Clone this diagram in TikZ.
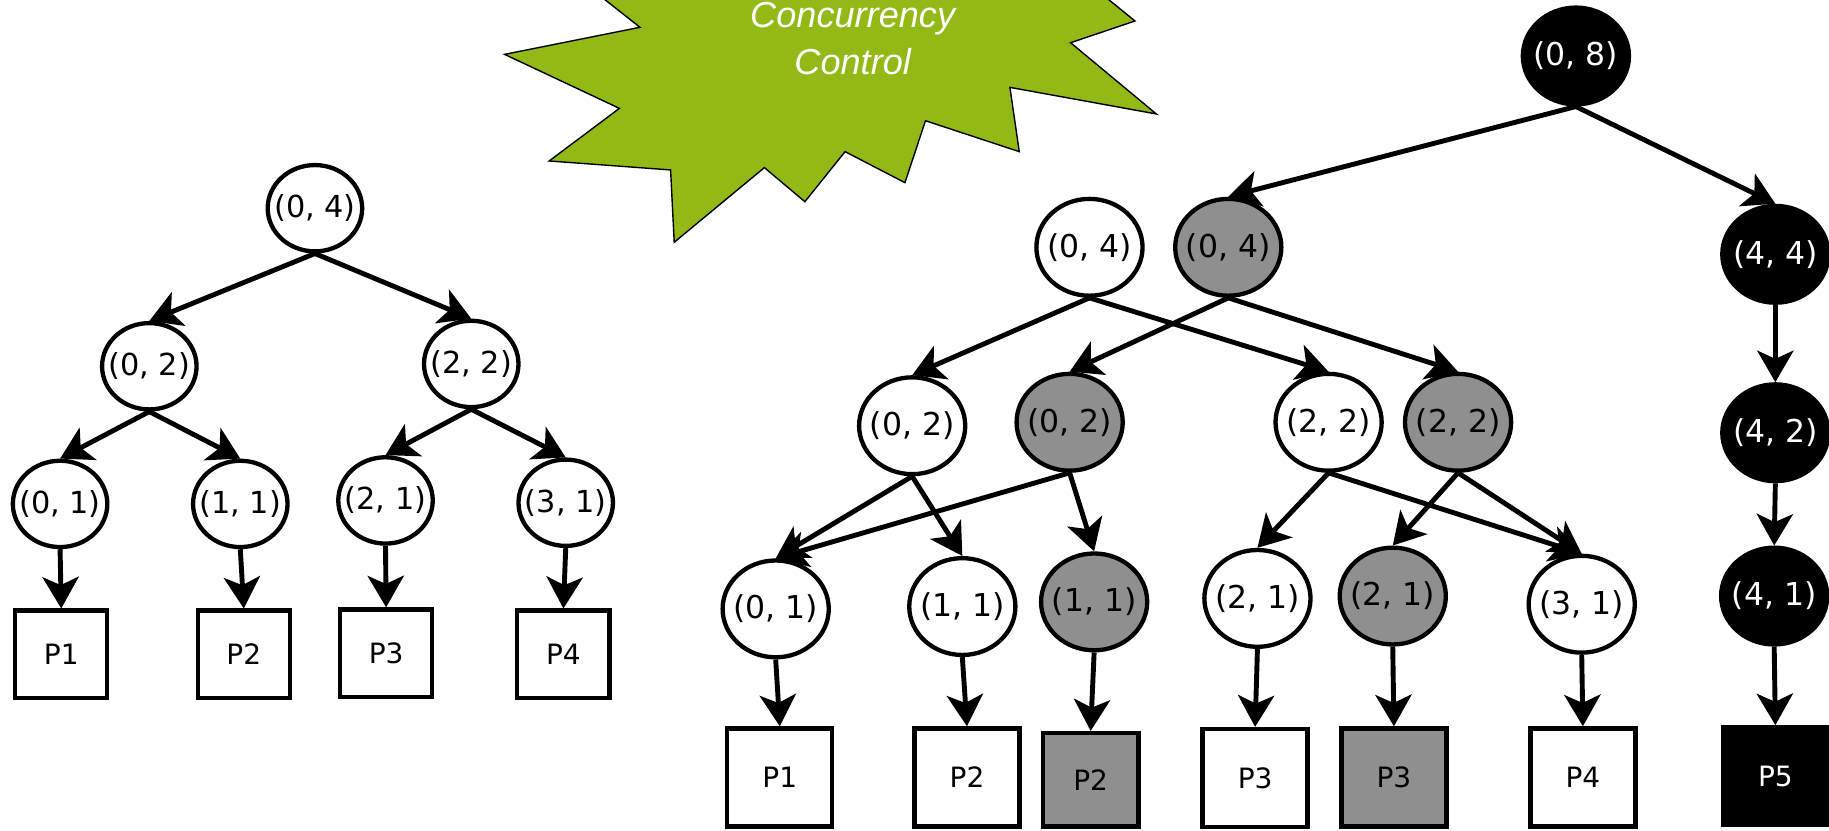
\documentclass[tikz,border=0pt]{standalone}
\usepackage{fontspec}
\setmainfont{DejaVu Sans}
\newfontfamily\burstfont{Liberation Sans}
\usetikzlibrary{shapes.geometric,arrows.meta}
\definecolor{burstgreen}{RGB}{147,185,22}
\definecolor{midgray}{RGB}{143,143,143}
% label of zero width, so the ellipse keeps its fixed size
\newcommand\ctext[1]{\makebox[0pt]{#1}}

\begin{document}
\begin{tikzpicture}[x=1pt,y=-1pt,
  nd/.style={ellipse, draw, line width=3.7pt, inner sep=0pt, fill=white},
  lnd/.style={nd, minimum width=81pt, minimum height=74pt,
              font=\fontsize{26}{30}\selectfont},
  rnd/.style={nd, minimum width=91pt, minimum height=83pt,
              font=\fontsize{27}{31}\selectfont},
  shaded/.style={fill=midgray},
  solidblk/.style={fill=black, text=white},
  box/.style={rectangle, draw, line width=3.7pt, inner sep=0pt, fill=white,
              font=\fontsize{24}{28}\selectfont},
  lbox/.style={box, minimum width=79pt, minimum height=75pt},
  rbox/.style={box, minimum width=90pt, minimum height=84pt},
  edge/.style={line width=4.2pt, -{Stealth[length=27pt,width=31pt,inset=7pt]}},
  burst/.style={fill=burstgreen, draw=black, line width=1.2pt, line join=miter},
  bursttext/.style={text=white, anchor=base, inner sep=0pt,
                    font=\burstfont\itshape\fontsize{31}{38}\selectfont},
]
\useasboundingbox (0,0) rectangle (1568,712);
\clip (0,0) rectangle (1568,712);

% ---------- starburst ----------
\path[burst] (481,-30) -- (548.6,23.4) -- (432.6,46.6) -- (531,92.9)
  -- (470.8,138) -- (574.9,145.7) -- (578,207.7) -- (655.3,143.7)
  -- (690,172.9) -- (724.5,130) -- (775.8,156.6) -- (793.4,103.5)
  -- (873.8,130) -- (865.8,74.9) -- (991.3,97.7) -- (917.8,36.6)
  -- (973,18) -- (914,-30) -- cycle;
\node[bursttext] (cc1) at (731,24) {Concurrency};
\node[bursttext] (cc2) at (731,63.5) {Control};

% ---------- left tree ----------
\node[lnd] (L04) at (270,178.5) {\ctext{(0, 4)}};
\node[lnd] (L02) at (128,314) {\ctext{(0, 2)}};
\node[lnd] (L22) at (404,312) {\ctext{(2, 2)}};
\node[lnd] (L01) at (51.5,432) {\ctext{(0, 1)}};
\node[lnd] (L11) at (206,432) {\ctext{(1, 1)}};
\node[lnd] (L21) at (330.5,429) {\ctext{(2, 1)}};
\node[lnd] (L31) at (485,431) {\ctext{(3, 1)}};
\node[lbox] (LP1) at (52.5,561) {P1};
\node[lbox] (LP2) at (209,561) {P2};
\node[lbox] (LP3) at (331,560) {P3};
\node[lbox] (LP4) at (483,561) {P4};

\draw[edge] (L04.south) -- (L02.north);
\draw[edge] (L04.south) -- (L22.north);
\draw[edge] (L02.south) -- (L01.north);
\draw[edge] (L02.south) -- (L11.north);
\draw[edge] (L22.south) -- (L21.north);
\draw[edge] (L22.south) -- (L31.north);
\draw[edge] (L01.south) -- (LP1.north);
\draw[edge] (L11.south) -- (LP2.north);
\draw[edge] (L21.south) -- (LP3.north);
\draw[edge] (L31.south) -- (LP4.north);

% ---------- right tree ----------
\node[rnd, solidblk] (R08) at (1351,48) {\ctext{(0, 8)}};
\node[rnd] (RW04) at (934,212) {\ctext{(0, 4)}};
\node[rnd, shaded] (RG04) at (1053,212) {\ctext{(0, 4)}};
\node[rnd, solidblk] (R44) at (1522,218) {\ctext{(4, 4)}};

\node[rnd] (RW02) at (782,365) {\ctext{(0, 2)}};
\node[rnd, shaded] (RG02) at (917,362) {\ctext{(0, 2)}};
\node[rnd] (RW22) at (1139,362) {\ctext{(2, 2)}};
\node[rnd, shaded] (RG22) at (1250,362) {\ctext{(2, 2)}};
\node[rnd, solidblk] (R42) at (1522,371) {\ctext{(4, 2)}};

\node[rnd] (RW01) at (665,522) {\ctext{(0, 1)}};
\node[rnd] (RW11) at (825,520) {\ctext{(1, 1)}};
\node[rnd, shaded] (RG11) at (938,516) {\ctext{(1, 1)}};
\node[rnd] (RW21) at (1078,513) {\ctext{(2, 1)}};
\node[rnd, shaded] (RG21) at (1194,511) {\ctext{(2, 1)}};
\node[rnd] (RW31) at (1356,518) {\ctext{(3, 1)}};
\node[rnd, solidblk] (R41) at (1521,511) {\ctext{(4, 1)}};

\node[rbox] (RP1) at (668.5,666.5) {P1};
\node[rbox] (RP2) at (829,666.5) {P2};
\node[rbox, shaded, minimum width=82pt, minimum height=80pt] (RGP2) at (935,668.5) {P2};
\node[rbox] (RP3) at (1076,667) {P3};
\node[rbox, shaded] (RGP3) at (1195,666.5) {P3};
\node[rbox] (RP4) at (1357,666.5) {P4};
\node[rbox, solidblk, draw=black] (RP5) at (1522,665.5) {P5};

\draw[edge] (R08.south) -- (RG04.north);
\draw[edge] (R08.south) -- (R44.north);
\draw[edge] (RW04.south) -- (RW02.north);
\draw[edge] (RW04.south) -- (RW22.north);
\draw[edge] (RG04.south) -- (RG02.north);
\draw[edge] (RG04.south) -- (RG22.north);
\draw[edge] (RW02.south) -- (RW01.north);
\draw[edge] (RW02.south) -- (RW11.north);
\draw[edge] (RG02.south) -- (RW01.north);
\draw[edge] (RG02.south) -- (RG11.north);
\draw[edge] (RW22.south) -- (RW21.north);
\draw[edge] (RW22.south) -- (RW31.north);
\draw[edge] (RG22.south) -- (RG21.north);
\draw[edge] (RG22.south) -- (RW31.north);
\draw[edge] (R44.south) -- (R42.north);
\draw[edge] (R42.south) -- (R41.north);
\draw[edge] (RW01.south) -- (RP1.north);
\draw[edge] (RW11.south) -- (RP2.north);
\draw[edge] (RG11.south) -- (RGP2.north);
\draw[edge] (RW21.south) -- (RP3.north);
\draw[edge] (RG21.south) -- (RGP3.north);
\draw[edge] (RW31.south) -- (RP4.north);
\draw[edge] (R41.south) -- (RP5.north);
\end{tikzpicture}
\end{document}
